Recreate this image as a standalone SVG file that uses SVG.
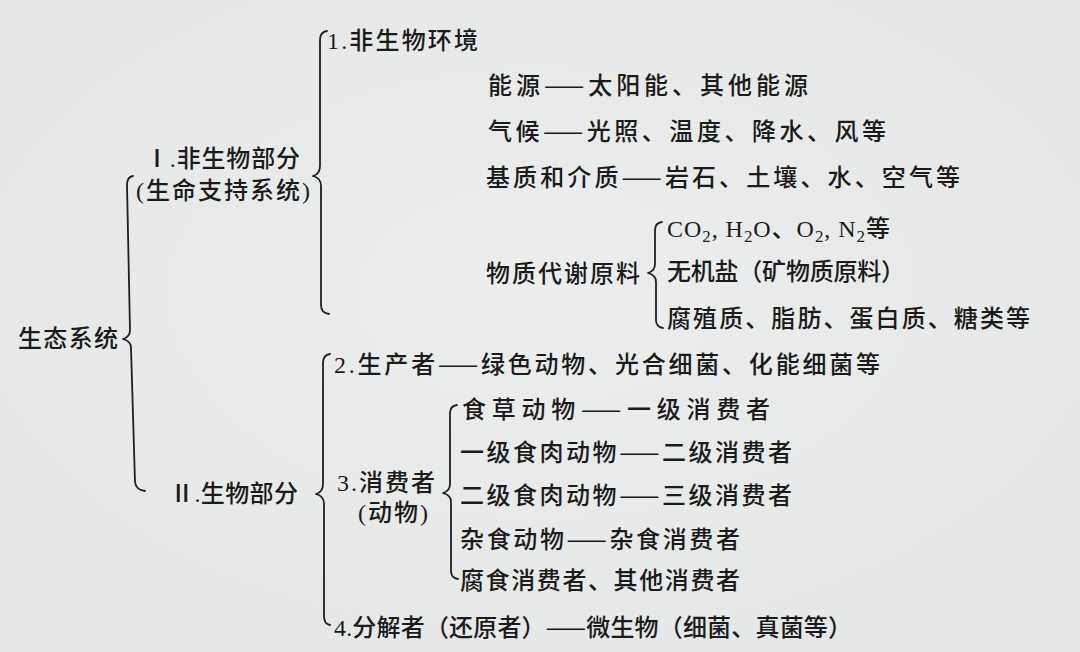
<svg xmlns="http://www.w3.org/2000/svg" width="1080" height="652" viewBox="0 0 1080 652">
<defs>
<style>
.t{font-family:"Liberation Serif","Noto Sans CJK SC",serif;font-size:24px;font-weight:500;fill:#1b1b1b;}
.d{font-family:"Noto Sans CJK SC",sans-serif;font-weight:400;}
.b{fill:none;stroke:#1f1f1f;stroke-width:1.8;stroke-linecap:round;stroke-linejoin:round;}
</style>
<radialGradient id="bg" cx="0.5" cy="0.45" r="0.75">
<stop offset="0" stop-color="#eceeed"/>
<stop offset="1" stop-color="#e3e6e5"/>
</radialGradient>
</defs>
<rect width="1080" height="652" fill="url(#bg)"/>
<g id="connectors">
<path class="b" d="M133 176 Q127 177 127 185 L130 330 Q130 337 123 339 Q131 341 131 348 L135 482 Q136 490 145 491"/>
<path class="b" d="M327 31 Q320 32 320 40 L320 166 Q320 174 313 176 Q321 178 321 186 L321 305 Q321 313 329 314"/>
<path class="b" d="M330 354 Q323 355 323 363 L323 484 Q323 492 316 494 Q324 496 324 504 L324 616 Q324 624 330 625"/>
<path class="b" d="M457 405 Q450 406 450 413 L450 484 Q450 491 443 493 Q451 495 451 502 L451 571 Q451 578 458 579"/>
<path class="b" d="M662 222 Q655 223 655 230 L655 264 Q655 271 648 273 Q656 275 656 282 L656 320 Q656 327 663 328"/>
</g>
<g id="root"><text class="t" x="18" y="347" textLength="100" lengthAdjust="spacing">生态系统</text></g>
<g id="abiotic"><text class="t" x="145" y="167" textLength="155" lengthAdjust="spacing">Ⅰ.非生物部分</text>
<text class="t" x="136" y="199" textLength="174" lengthAdjust="spacing">(生命支持系统)</text></g>
<g id="biotic"><text class="t" x="170" y="502" textLength="128" lengthAdjust="spacing">Ⅱ.生物部分</text></g>
<g id="env"><text class="t" x="327" y="49" textLength="151" lengthAdjust="spacing">1.非生物环境</text></g>
<g id="energy"><text class="t" x="488" y="94" textLength="320" lengthAdjust="spacing">能源<tspan class="d">——</tspan>太阳能、其他能源</text></g>
<g id="climate"><text class="t" x="488" y="140" textLength="398" lengthAdjust="spacing">气候<tspan class="d">——</tspan>光照、温度、降水、风等</text></g>
<g id="substrate"><text class="t" x="486" y="186" textLength="474" lengthAdjust="spacing">基质和介质<tspan class="d">——</tspan>岩石、土壤、水、空气等</text></g>
<g id="material"><text class="t" x="486" y="282" textLength="154" lengthAdjust="spacing">物质代谢原料</text></g>
<g id="gases"><text class="t" x="667" y="237" font-size="26" textLength="223" lengthAdjust="spacing">CO<tspan font-size="17" dy="5">2</tspan><tspan dy="-5">, H</tspan><tspan font-size="17" dy="5">2</tspan><tspan dy="-5">O、O</tspan><tspan font-size="17" dy="5">2</tspan><tspan dy="-5">, N</tspan><tspan font-size="17" dy="5">2</tspan><tspan dy="-5" font-size="24">等</tspan></text></g>
<g id="salts"><text class="t" x="667" y="280" textLength="238" lengthAdjust="spacing">无机盐（矿物质原料）</text></g>
<g id="organics"><text class="t" x="667" y="327" textLength="363" lengthAdjust="spacing">腐殖质、脂肪、蛋白质、糖类等</text></g>
<g id="producer"><text class="t" x="334" y="373" textLength="546" lengthAdjust="spacing">2.生产者<tspan class="d">——</tspan>绿色动物、光合细菌、化能细菌等</text></g>
<g id="consumer"><text class="t" x="337" y="491" textLength="98" lengthAdjust="spacing">3.消费者</text>
<text class="t" x="358" y="521" textLength="70" lengthAdjust="spacing">(动物)</text></g>
<g id="herbivore"><text class="t" x="462" y="418" textLength="308" lengthAdjust="spacing">食草动物<tspan class="d">——</tspan>一级消费者</text></g>
<g id="carn1"><text class="t" x="460" y="461" textLength="332" lengthAdjust="spacing">一级食肉动物<tspan class="d">——</tspan>二级消费者</text></g>
<g id="carn2"><text class="t" x="460" y="504" textLength="332" lengthAdjust="spacing">二级食肉动物<tspan class="d">——</tspan>三级消费者</text></g>
<g id="omnivore"><text class="t" x="460" y="548" textLength="280" lengthAdjust="spacing">杂食动物<tspan class="d">——</tspan>杂食消费者</text></g>
<g id="detritivore"><text class="t" x="460" y="589" textLength="280" lengthAdjust="spacing">腐食消费者、其他消费者</text></g>
<g id="decomposer"><text class="t" x="334" y="636" textLength="518" lengthAdjust="spacing">4.分解者（还原者）<tspan class="d">——</tspan>微生物（细菌、真菌等）</text></g>
</svg>
